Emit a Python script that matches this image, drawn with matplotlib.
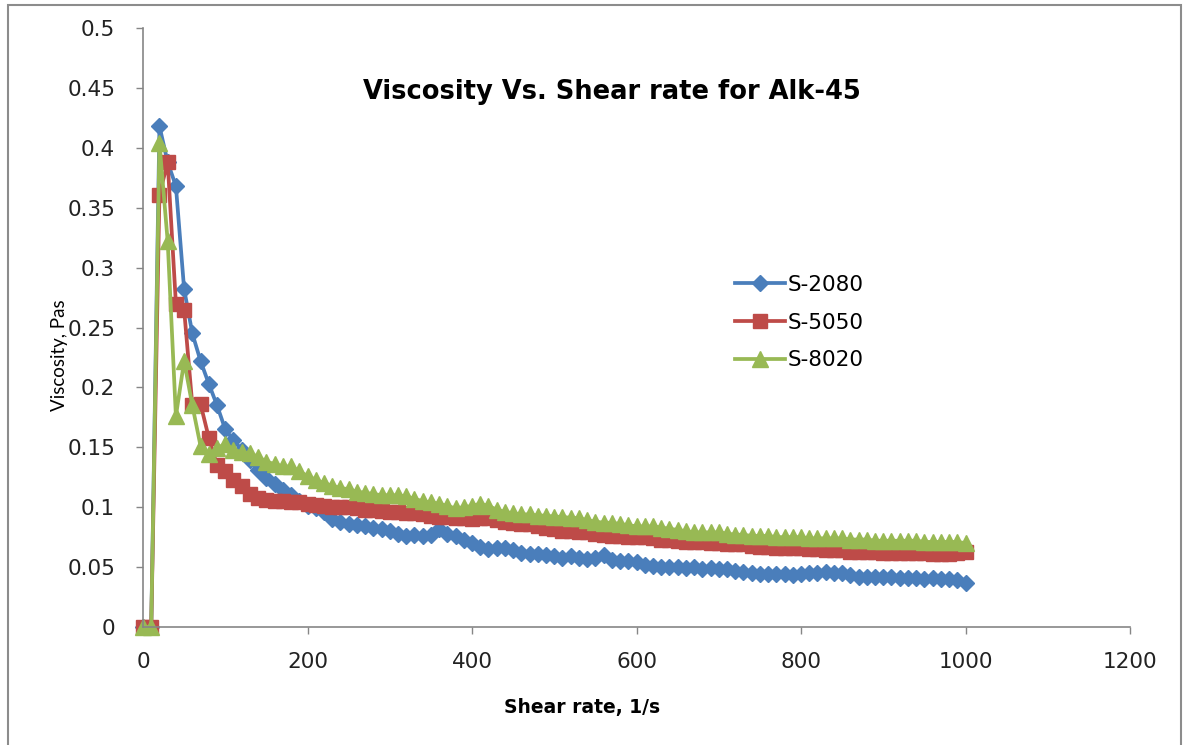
import matplotlib
matplotlib.use("Agg")
import matplotlib.pyplot as plt
from matplotlib.patches import Rectangle

# Shear rate grid (1/s), one reading every 10 1/s
shear_rate = list(range(0, 1001, 10))

# Viscosity (Pa s), one value per shear rate
s2080 = [
    0.000, 0.000, 0.418, 0.388, 0.368, 0.282, 0.245, 0.222, 0.203, 0.185,
    0.165, 0.156, 0.148, 0.139, 0.131, 0.124, 0.119, 0.114, 0.110, 0.105,
    0.101, 0.099, 0.096, 0.090, 0.088, 0.086, 0.085, 0.084, 0.083, 0.082,
    0.080, 0.078, 0.076, 0.077, 0.076, 0.077, 0.082, 0.078, 0.076, 0.073,
    0.070, 0.067, 0.065, 0.066, 0.066, 0.064, 0.062, 0.061, 0.061, 0.060,
    0.059, 0.058, 0.059, 0.058, 0.057, 0.058, 0.060, 0.056, 0.055, 0.055,
    0.054, 0.052, 0.051, 0.050, 0.050, 0.050, 0.049, 0.050, 0.048, 0.049,
    0.048, 0.048, 0.047, 0.046, 0.045, 0.044, 0.044, 0.044, 0.044, 0.043,
    0.044, 0.045, 0.045, 0.046, 0.045, 0.045, 0.043, 0.042, 0.042, 0.042,
    0.042, 0.042, 0.041, 0.041, 0.041, 0.040, 0.041, 0.040, 0.040, 0.039,
    0.037,
]
s5050 = [
    0.000, 0.000, 0.361, 0.388, 0.270, 0.265, 0.185, 0.186, 0.158, 0.135,
    0.130, 0.123, 0.118, 0.111, 0.108, 0.106, 0.105, 0.105, 0.104, 0.104,
    0.103, 0.102, 0.101, 0.100, 0.100, 0.100, 0.099, 0.098, 0.098, 0.097,
    0.096, 0.096, 0.095, 0.095, 0.094, 0.093, 0.092, 0.092, 0.091, 0.091,
    0.090, 0.091, 0.091, 0.089, 0.088, 0.087, 0.086, 0.086, 0.084, 0.083,
    0.082, 0.080, 0.080, 0.079, 0.079, 0.078, 0.077, 0.076, 0.076, 0.075,
    0.075, 0.075, 0.074, 0.073, 0.073, 0.072, 0.071, 0.071, 0.071, 0.070,
    0.070, 0.069, 0.069, 0.069, 0.068, 0.067, 0.067, 0.066, 0.066, 0.066,
    0.066, 0.065, 0.065, 0.064, 0.064, 0.064, 0.063, 0.063, 0.063, 0.063,
    0.062, 0.062, 0.062, 0.062, 0.062, 0.062, 0.061, 0.061, 0.061, 0.062,
    0.063,
]
s8020 = [
    0.000, 0.000, 0.404, 0.322, 0.176, 0.222, 0.185, 0.151, 0.144, 0.149,
    0.153, 0.148, 0.146, 0.145, 0.142, 0.138, 0.136, 0.134, 0.134, 0.130,
    0.126, 0.123, 0.120, 0.118, 0.116, 0.115, 0.113, 0.112, 0.111, 0.110,
    0.110, 0.110, 0.109, 0.107, 0.105, 0.104, 0.103, 0.101, 0.099, 0.100,
    0.101, 0.103, 0.101, 0.098, 0.096, 0.095, 0.094, 0.094, 0.093, 0.093,
    0.092, 0.092, 0.091, 0.091, 0.089, 0.088, 0.087, 0.087, 0.086, 0.085,
    0.084, 0.084, 0.084, 0.083, 0.082, 0.081, 0.080, 0.079, 0.079, 0.079,
    0.079, 0.078, 0.077, 0.077, 0.076, 0.076, 0.076, 0.075, 0.075, 0.075,
    0.075, 0.074, 0.074, 0.074, 0.074, 0.074, 0.073, 0.073, 0.073, 0.072,
    0.072, 0.072, 0.072, 0.072, 0.072, 0.071, 0.071, 0.071, 0.071, 0.071,
    0.070,
]

series_names = ["S-2080", "S-5050", "S-8020"]
x_ticks = [0, 200, 400, 600, 800, 1000, 1200]
y_ticks = [0, 0.05, 0.1, 0.15, 0.2, 0.25, 0.3, 0.35, 0.4, 0.45, 0.5]
y_tick_labels = ["0", "0.05", "0.1", "0.15", "0.2", "0.25", "0.3",
                 "0.35", "0.4", "0.45", "0.5"]

W, H = 1190, 745
fig = plt.figure(figsize=(W / 100, H / 100), dpi=100)
fig.patch.set_facecolor("white")

# outer chart border, Excel style
fig.patches.append(Rectangle((8 / W, -0.02), (1181 - 8) / W, 1.02 - 5 / H,
                             transform=fig.transFigure, fill=False,
                             edgecolor="#8c8c8c", linewidth=1.5))

ax = fig.add_axes([143 / W, 1 - 627 / H, (1130 - 143) / W, (627 - 28) / H])

styles = [
    dict(color="#4a7ebb", marker="D", markersize=8.5),
    dict(color="#be4b48", marker="s", markersize=9.5),
    dict(color="#98b954", marker="^", markersize=11),
]
for name, vals, st in zip(series_names, [s2080, s5050, s8020], styles):
    ax.plot(shear_rate, vals, label=name, linewidth=2.7,
            markeredgecolor=st["color"], clip_on=False, **st)

ax.set_xlim(0, 1200)
ax.set_ylim(0, 0.5)
ax.set_xticks(x_ticks)
ax.set_yticks(y_ticks)
ax.set_yticklabels(y_tick_labels)

for side in ["top", "right"]:
    ax.spines[side].set_visible(False)
for side in ["left", "bottom"]:
    ax.spines[side].set_color("#868686")
    ax.spines[side].set_linewidth(1.2)

ax.tick_params(axis="both", direction="out", length=5, width=1,
               color="#868686", labelsize=15.5, labelcolor="#222222")
ax.tick_params(axis="y", pad=15)
ax.tick_params(axis="x", pad=13)

fig.text(612 / W, 1 - 92 / H, "Viscosity Vs. Shear rate for Alk-45",
         family="DejaVu Sans", fontweight="bold", fontsize=18.5,
         ha="center", va="center", color="black")
fig.text(582 / W, 1 - 707 / H, "Shear rate, 1/s", family="DejaVu Sans",
         fontweight="bold", fontsize=13.5, ha="center", va="center",
         color="black")
fig.text(60 / W, 1 - 355 / H, "Viscosity, Pas", family="Lato",
         fontsize=13.5, rotation=90, ha="center", va="center",
         color="black")

ax.legend(loc="upper left", bbox_to_anchor=(735 / W, 1 - 275 / H),
          bbox_transform=fig.transFigure, frameon=False, borderpad=0,
          borderaxespad=0, handlelength=2.3, handletextpad=0.15,
          labelspacing=0.82, fontsize=15.5, numpoints=1)

fig.savefig("out.png", dpi=100)
